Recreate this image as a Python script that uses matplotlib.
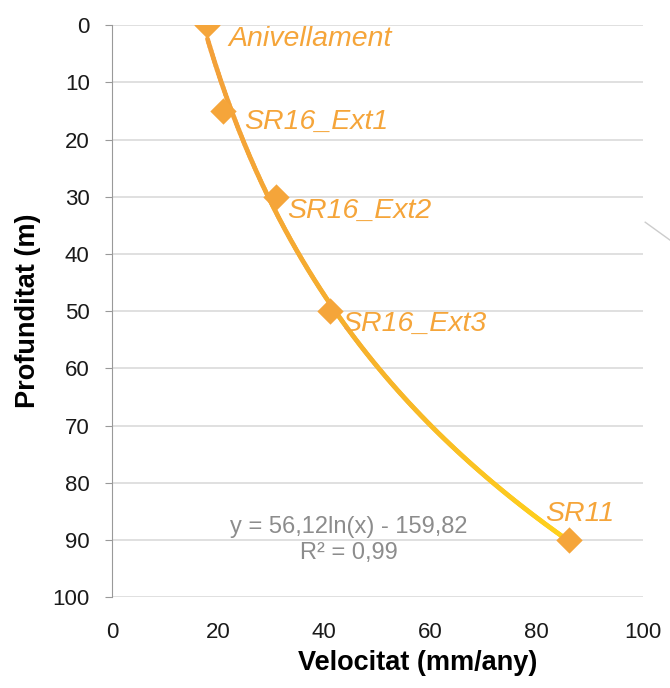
import numpy as np
import matplotlib
matplotlib.use("Agg")
import matplotlib.pyplot as plt
from matplotlib.collections import LineCollection
from matplotlib.colors import LinearSegmentedColormap

plt.rcParams["font.family"] = ["Liberation Sans", "DejaVu Sans"]

## data
names = ["Anivellament", "SR16_Ext1", "SR16_Ext2", "SR16_Ext3", "SR11"]
velocitat = [18, 21, 31, 41, 86]
profunditat = [0, 15, 30, 50, 90]
eq_text = "y = 56,12ln(x) - 159,82"
r2_text = "R² = 0,99"

orange = "#F5A53A"

fig = plt.figure(figsize=(6.7, 6.88), dpi=100)
ax = fig.add_axes([0.167, 0.132, 0.7925, 0.8314])

# log trendline fitted to the points (like the excel one)
coef = np.polyfit(np.log(velocitat), profunditat, 1)
xs = np.linspace(min(velocitat), max(velocitat), 300)
ys = np.polyval(coef, np.log(xs))
pts = np.array([xs, ys]).T.reshape(-1, 1, 2)
segs = np.concatenate([pts[:-1], pts[1:]], axis=1)
cmap = LinearSegmentedColormap.from_list("oy", ["#F3A03A", "#F7B52A", "#FFD21A"])
lc = LineCollection(segs, cmap=cmap, linewidths=3.4, capstyle="round", zorder=3)
lc.set_array(np.linspace(0, 1, len(segs)))
ax.add_collection(lc)

ax.scatter(velocitat, profunditat, marker="D", s=180, color=orange, zorder=4, linewidths=0)

offsets = [(15, -10), (15, -8), (8, -10), (9, -9), (-17, 19)]
for n, x, y, off in zip(names, velocitat, profunditat, offsets):
    ax.annotate(n, (x, y), xytext=off, textcoords="offset points", color=orange,
                fontsize=20.5, style="italic", va="center", ha="left", zorder=5)

ax.text(44.7, 87.8, eq_text, color="#8C8C8C", fontsize=17, ha="center", va="center")
ax.text(44.7, 92.3, r2_text, color="#8C8C8C", fontsize=17, ha="center", va="center")

ax.set_xlim(0, 100)
ax.set_ylim(100, 0)
ax.set_xticks(range(0, 101, 20))
ax.set_yticks(range(0, 101, 10))
ax.tick_params(axis="both", labelsize=16, colors="#1a1a1a")
ax.tick_params(axis="x", length=0, pad=18)
ax.tick_params(axis="y", length=5, color="#999999", pad=11)
ax.yaxis.grid(True, color="#DADADA", linewidth=1.2)
ax.set_axisbelow(True)
for s in ["top", "right", "bottom"]:
    ax.spines[s].set_visible(False)
ax.spines["left"].set_color("#999999")

ax.set_xlabel("Velocitat (mm/any)", fontsize=19.5, fontweight="bold")
ax.xaxis.set_label_coords(0.576, -0.093)
ax.set_ylabel("Profunditat (m)", fontsize=19.5, fontweight="bold", labelpad=8)

# little grey stroke at the right edge of the original picture
fig.add_artist(plt.Line2D([0.963, 1.0], [0.677, 0.651], color="#CCCCCC", linewidth=1))

plt.savefig("out.png", dpi=100)
